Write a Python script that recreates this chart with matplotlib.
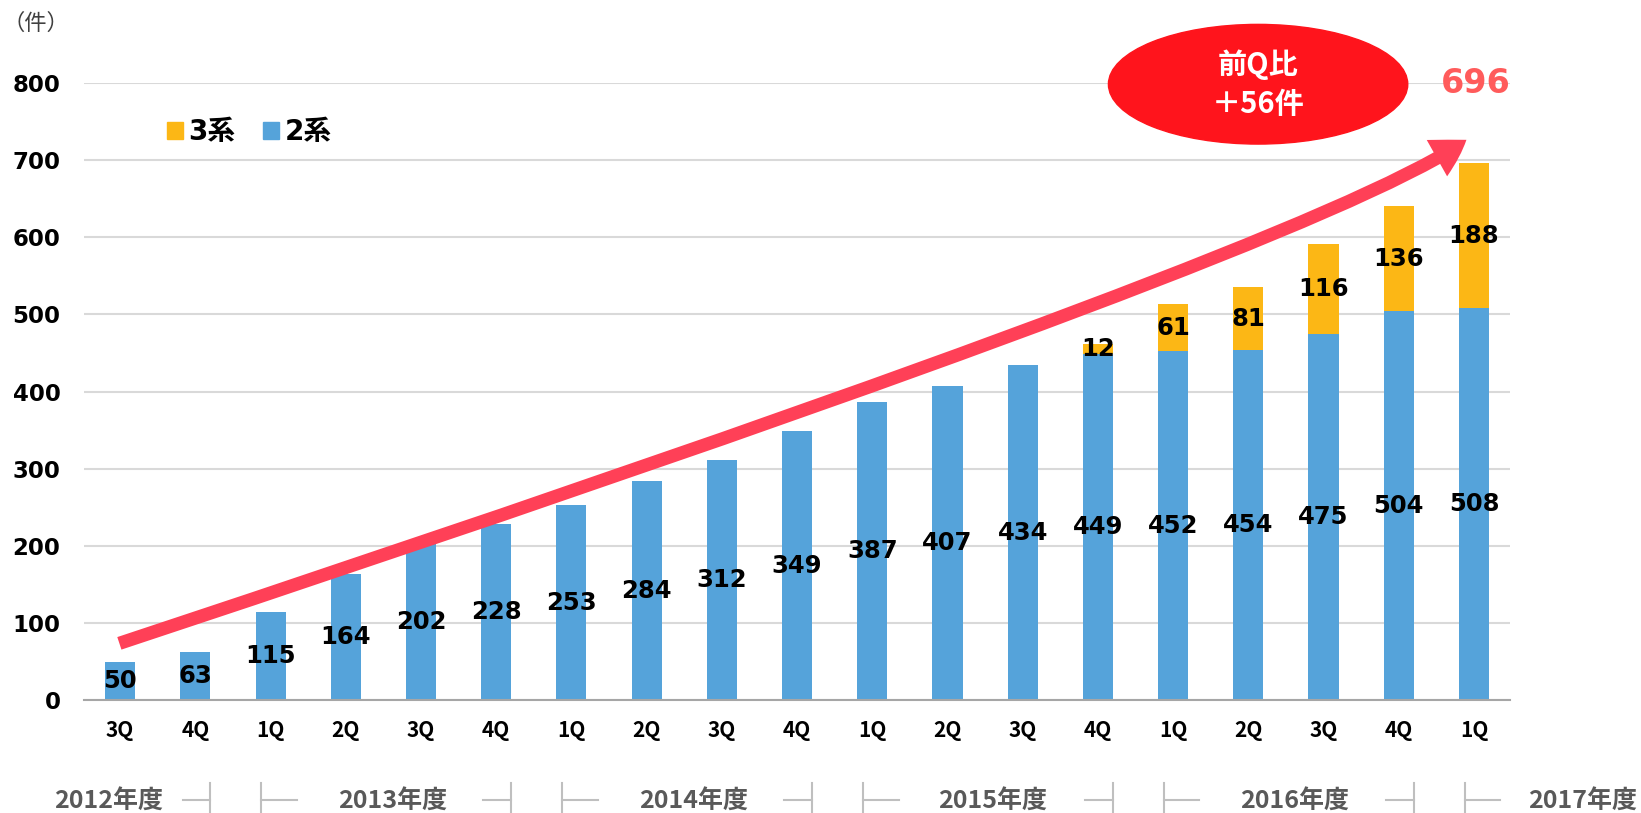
import numpy as np
import matplotlib
matplotlib.use('Agg')
import matplotlib.pyplot as plt
import matplotlib.transforms as mtransforms
from matplotlib.patches import Patch, Ellipse, FancyArrowPatch
from matplotlib.path import Path

plt.rcParams['font.family'] = ['DejaVu Sans', 'Noto Sans CJK JP']

# データ
quarters = ['3Q', '4Q', '1Q', '2Q', '3Q', '4Q', '1Q', '2Q', '3Q', '4Q',
            '1Q', '2Q', '3Q', '4Q', '1Q', '2Q', '3Q', '4Q', '1Q']
series_2 = [50, 63, 115, 164, 202, 228, 253, 284, 312, 349,
            387, 407, 434, 449, 452, 454, 475, 504, 508]
series_3 = [0, 0, 0, 0, 0, 0, 0, 0, 0, 0,
            0, 0, 0, 12, 61, 81, 116, 136, 188]
fiscal_years = ['2012年度', '2013年度', '2014年度', '2015年度', '2016年度', '2017年度']
year_sizes = [2, 4, 4, 4, 4, 1]

blue = '#55A3DA'
orange = '#FCB715'
cjk = ['Noto Sans CJK JP', 'DejaVu Sans']

x = np.arange(len(quarters))
totals = np.array(series_2) + np.array(series_3)

fig = plt.figure(figsize=(16.41, 8.13), dpi=100)
ax = fig.add_axes([0.0512, 0.1384, 0.8690, 0.7599])

b2 = ax.bar(x, series_2, width=0.40, color=blue, zorder=2)
b3 = ax.bar(x, series_3, bottom=series_2, width=0.40, color=orange, zorder=2)
ax.bar_label(b2, labels=[str(v) for v in series_2], label_type='center',
             fontsize=17.5, fontweight='bold', zorder=3)
ax.bar_label(b3, labels=[str(v) if v else '' for v in series_3], label_type='center',
             fontsize=17.5, fontweight='bold', zorder=3)

ax.set_xlim(-0.48, len(quarters) - 0.52)
ax.set_ylim(0, 800)
ax.set_yticks(range(0, 801, 100))
ax.set_xticks(x, quarters)
for t in ax.get_yticklabels():
    t.set_fontweight('bold')
for t in ax.get_xticklabels():
    t.set_fontweight('bold')
    t.set_family(cjk)
ax.tick_params(axis='y', length=0, pad=17, labelsize=16.5)
ax.tick_params(axis='x', length=0, pad=14, labelsize=15)
ax.yaxis.grid(True, color='#D9D9D9', lw=1.5)
ax.set_axisbelow(True)
for s in ['top', 'right', 'left']:
    ax.spines[s].set_visible(False)
ax.spines['bottom'].set_color('#A6A6A6')
ax.spines['bottom'].set_linewidth(1.5)

# 凡例
handles = [Patch(color=orange, label='3系'), Patch(color=blue, label='2系')]
ax.legend(handles=handles, loc='upper left', bbox_to_anchor=(167 / 1641, 1 - 118 / 813),
          bbox_transform=fig.transFigure, ncol=2, frameon=False,
          handlelength=0.57, handleheight=0.57, handletextpad=0.2, columnspacing=1.0,
          borderpad=0, borderaxespad=0, prop={'weight': 'bold', 'size': 20})

# 矢印
p0 = (x[0] - 0.01, totals[0] + 24)
p1 = (x[-1] - 2.08, 588)
p2 = (x[-1] - 0.1, totals[-1] + 30)
arrow_path = Path([p0, p1, p2], [Path.MOVETO, Path.CURVE3, Path.CURVE3])
ax.add_patch(FancyArrowPatch(path=arrow_path,
                             arrowstyle='simple,head_length=25,head_width=30,tail_width=9.5',
                             mutation_scale=1, color='#FF4057', lw=0, zorder=4))

# 前Q比
ax.add_patch(Ellipse((x[-1] - 2.87, 798), width=3.98, height=155, color='#FF141C',
                     clip_on=False, zorder=5))
diff = totals[-1] - totals[-2]
ax.text(x[-1] - 2.87, 798, '前Q比\n＋%d件' % diff, ha='center', va='center', color='white',
        fontsize=21, fontweight='bold', family=cjk, linespacing=1.4, zorder=6)
ax.annotate(str(totals[-1]), xy=(x[-1], totals[-1]), xytext=(1, 57),
            textcoords='offset points', ha='center', va='center', color='#FF5B5B',
            fontsize=24, fontweight='bold', annotation_clip=False)

fig.text(3 / 1641, 1 - 23 / 813, '（件）', fontsize=16, va='center', ha='left',
         family=cjk, color='#404040')

# 年度
trans = mtransforms.blended_transform_factory(ax.transData, fig.transFigure)
year_x = [-0.16, 3.62, 7.63, 11.6, 15.62, 19.45]
for label, xp in zip(fiscal_years, year_x):
    ax.text(xp, 11 / 813, label, transform=trans, ha='center', va='center', fontsize=18,
            fontweight='bold', color='#595959', family=cjk, clip_on=False)
ly = 13 / 813
for b in np.cumsum(year_sizes)[:-1] - 0.5:
    kw = dict(transform=trans, color='#BFBFBF', lw=1.5, clip_on=False)
    ax.plot([b - 0.67, b - 0.30], [ly, ly], **kw)
    ax.plot([b - 0.30, b - 0.30], [0, 30 / 813], **kw)
    ax.plot([b + 0.375, b + 0.375], [0, 30 / 813], **kw)
    ax.plot([b + 0.375, b + 0.85], [ly, ly], **kw)

fig.savefig('out.png', dpi=100)
